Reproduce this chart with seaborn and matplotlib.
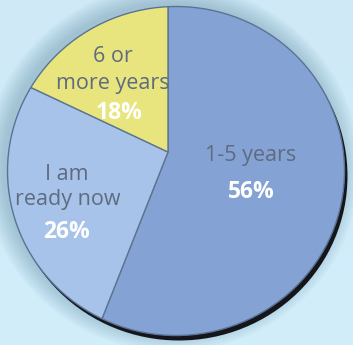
import matplotlib
matplotlib.use("Agg")
import matplotlib.pyplot as plt
from matplotlib.patches import Ellipse
import seaborn as sns
import numpy as np

# ---- data ----
categories = ["1-5 years", "I am ready now", "6 or more years"]
label_lines = [["1-5 years"], ["I am", "ready now"], ["6 or", "more years"]]
values = [56, 26, 18]
pct_labels = ["56%", "26%", "18%"]
colors = ["#84a2d3", "#a7c3ea", "#e8e47e"]

sns.set_theme(style="white")
plt.rcParams['font.family'] = ['Open Sans', 'DejaVu Sans']

W, H = 353, 345
fig = plt.figure(figsize=(W / 100, H / 100), dpi=100)
fig.patch.set_facecolor("#d0ecfa")
ax = fig.add_axes([0, 0, 1, 1])

def py(y):
    return H - y

cx, cy = 176, py(171)
ew, eh = 337, 329

wedges, _ = ax.pie(values, colors=colors, startangle=90, counterclock=False,
                   center=(168, py(152)), radius=300, frame=True,
                   wedgeprops=dict(edgecolor="#5e7490", linewidth=1.0))
ax.set_xlim(0, W)
ax.set_ylim(0, H)
ax.set_aspect("auto")
ax.axis("off")

# background gradient
yy = np.linspace(0, 1, 50).reshape(-1, 1)
ax.imshow(np.tile(yy, (1, 2)), extent=[0, W, 0, H],
          cmap=matplotlib.colors.LinearSegmentedColormap.from_list("bg", ["#d2eefb", "#cfe9f7"]),
          aspect="auto", zorder=0, origin="lower")
ax.set_xlim(0, W)
ax.set_ylim(0, H)

# soft shadow (stronger toward upper left)
for i in range(10):
    ax.add_patch(Ellipse((cx - 4, cy + 3), ew + 2 + i * 4, eh + 2 + i * 4,
                         facecolor="#4f7f96", edgecolor="none", alpha=0.04, zorder=1))
# dark rim (lower right)
ax.add_patch(Ellipse((cx + 3, cy - 5), ew, eh, facecolor="#15161c", edgecolor="none", zorder=2))

clip = Ellipse((cx, cy), ew, eh, facecolor="none", edgecolor="none")
ax.add_patch(clip)
for w in wedges:
    w.set_zorder(3)
    w.set_clip_on(True)
    w.set_clip_path(clip)

ax.add_patch(Ellipse((cx, cy), ew, eh, facecolor="none", edgecolor="#5b7393", lw=1.0, zorder=5))

# label positions (pixels from top)
line_pos = [[(251, 155)], [(67, 174), (68, 200)], [(113, 57), (113, 84)]]
pct_pos = [(251, 192), (67, 232), (119, 113)]
for lines, lp, pct, pp in zip(label_lines, line_pos, pct_labels, pct_pos):
    for t, (x, y) in zip(lines, lp):
        ax.text(x, py(y), t, ha="center", va="center", fontsize=15.5,
                color="#5f6b80", zorder=6)
    ax.text(pp[0], py(pp[1]), pct, ha="center", va="center", fontsize=16.5,
            fontweight="bold", color="white", zorder=6)

fig.savefig("out.png", dpi=100, facecolor=fig.get_facecolor())
